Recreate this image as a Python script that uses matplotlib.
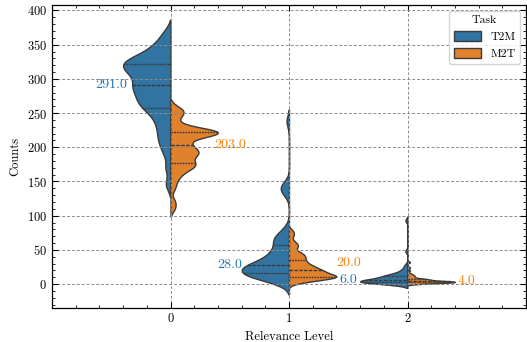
import numpy as np
import pandas as pd
import matplotlib
matplotlib.use("Agg")
import matplotlib.pyplot as plt
import seaborn as sns
from matplotlib.ticker import MultipleLocator

# ---------------- data (counts) ----------------
levels = [0, 1, 2]
tasks = ["T2M", "M2T"]

t2m_level0 = [146, 170, 190, 202, 210, 218, 226, 233, 240, 246, 251, 255,
              259, 262, 265, 268, 271, 274, 277, 280, 283, 286, 289, 291,
              291, 296, 299, 302, 305, 308, 310, 312, 314, 316, 318, 321,
              323, 324, 326, 328, 330, 333, 336, 340, 345, 350, 357, 368]
m2t_level0 = [111, 121, 140, 150, 157, 162, 166, 169, 171, 173, 175, 176,
              178, 181, 184, 187, 189, 191, 192, 193, 195, 197, 200, 203,
              203, 207, 211, 214, 216, 218, 219, 220, 221, 221, 222, 222,
              223, 223, 224, 225, 226, 229, 234, 242, 248, 251, 254, 258]
t2m_level1 = [2, 5, 7, 9, 10, 11, 12, 13, 14, 14, 15, 15,
              16, 18, 20, 21, 22, 23, 24, 25, 25, 26, 27, 28,
              28, 30, 32, 34, 36, 39, 41, 43, 45, 48, 51, 56,
              58, 62, 66, 68, 70, 73, 82, 132, 138, 142, 146, 238]
m2t_level1 = [2, 4, 5, 6, 7, 8, 9, 9, 10, 10, 11, 11,
              11, 12, 13, 13, 14, 15, 16, 17, 18, 18, 19, 20,
              20, 22, 23, 24, 25, 26, 27, 29, 30, 32, 34, 35,
              38, 39, 41, 43, 45, 47, 52, 56, 58, 63, 71, 77]
t2m_level2 = [0, 0, 1, 1, 1, 2, 2, 2, 2, 3, 3, 3,
              3, 3, 4, 4, 4, 5, 5, 5, 5, 6, 6, 6,
              6, 7, 7, 8, 8, 9, 10, 10, 11, 11, 12, 12,
              12, 13, 14, 15, 16, 17, 19, 21, 24, 28, 48, 93]
m2t_level2 = [0, 1, 1, 1, 2, 2, 2, 2, 2, 2, 3, 3,
              3, 3, 3, 3, 3, 3, 3, 4, 4, 4, 4, 4,
              4, 4, 5, 5, 5, 6, 6, 6, 7, 7, 7, 7,
              8, 8, 9, 10, 11, 12, 13, 14, 16, 20, 24, 32]

samples = {
    ("T2M", 0): t2m_level0, ("M2T", 0): m2t_level0,
    ("T2M", 1): t2m_level1, ("M2T", 1): m2t_level1,
    ("T2M", 2): t2m_level2, ("M2T", 2): m2t_level2,
}

rows = []
for (task, lvl), vals in samples.items():
    for v in vals:
        rows.append({"Relevance Level": lvl, "Counts": v, "Task": task})
df = pd.DataFrame(rows)

# ---------------- style ----------------
plt.rcParams.update({
    "font.family": "cmr10",
    "mathtext.fontset": "cm",
    "axes.formatter.use_mathtext": True,
    "font.size": 9,
    "axes.linewidth": 0.9,
    "xtick.direction": "in",
    "ytick.direction": "in",
    "xtick.top": True,
    "ytick.right": True,
    "xtick.minor.visible": True,
    "ytick.minor.visible": True,
    "xtick.major.size": 4,
    "ytick.major.size": 4,
    "xtick.minor.size": 2,
    "ytick.minor.size": 2,
    "xtick.major.width": 0.8,
    "ytick.major.width": 0.8,
    "xtick.minor.width": 0.6,
    "ytick.minor.width": 0.6,
    "axes.axisbelow": "line",
})

colors = ["#1f77b4", "#ff7f0e"]

fig = plt.figure(figsize=(5.27, 3.42), dpi=100)
ax = fig.add_axes([52 / 527, 34 / 342, 474 / 527, 303 / 342])

sns.violinplot(data=df, x="Relevance Level", y="Counts", hue="Task",
               hue_order=tasks, order=levels, split=True, inner="quart",
               density_norm="width", bw_adjust=0.4, cut=2,
               palette=colors, saturation=0.75, linecolor="#3a3a3a",
               linewidth=1.0, ax=ax)

# median labels (the M2T label at level 1 is lifted a little to clear the 6.0 label)
label_lift = {("M2T", 1): 11}
for i, lvl in enumerate(levels):
    for task, dx, c in zip(tasks, [-0.5, 0.5], colors):
        med = float(np.median(samples[(task, lvl)]))
        ax.text(i + dx, med + label_lift.get((task, lvl), 0), f"{med:.1f}",
                color=c, ha="center", va="center", fontsize=10)

ax.set_xlim(-1, 3)
ax.set_ylim(-35, 408)
ax.yaxis.set_major_locator(MultipleLocator(50))
ax.yaxis.set_minor_locator(MultipleLocator(10))
ax.xaxis.set_minor_locator(MultipleLocator(0.2))
ax.grid(True, which="major", linestyle=(0, (3, 2)), color="#8c8c8c",
        linewidth=0.7)
ax.set_xlabel("Relevance Level", fontsize=9)
ax.set_ylabel("Counts", fontsize=9)

handles, labels = ax.get_legend_handles_labels()
ax.legend(handles, labels, title="Task", loc="upper right", fontsize=8.5,
          title_fontsize=8.5, handlelength=2.3, handleheight=0.9,
          fancybox=True, framealpha=0.8, edgecolor="#cccccc",
          borderaxespad=0.5)

fig.savefig("out.png", dpi=100)
